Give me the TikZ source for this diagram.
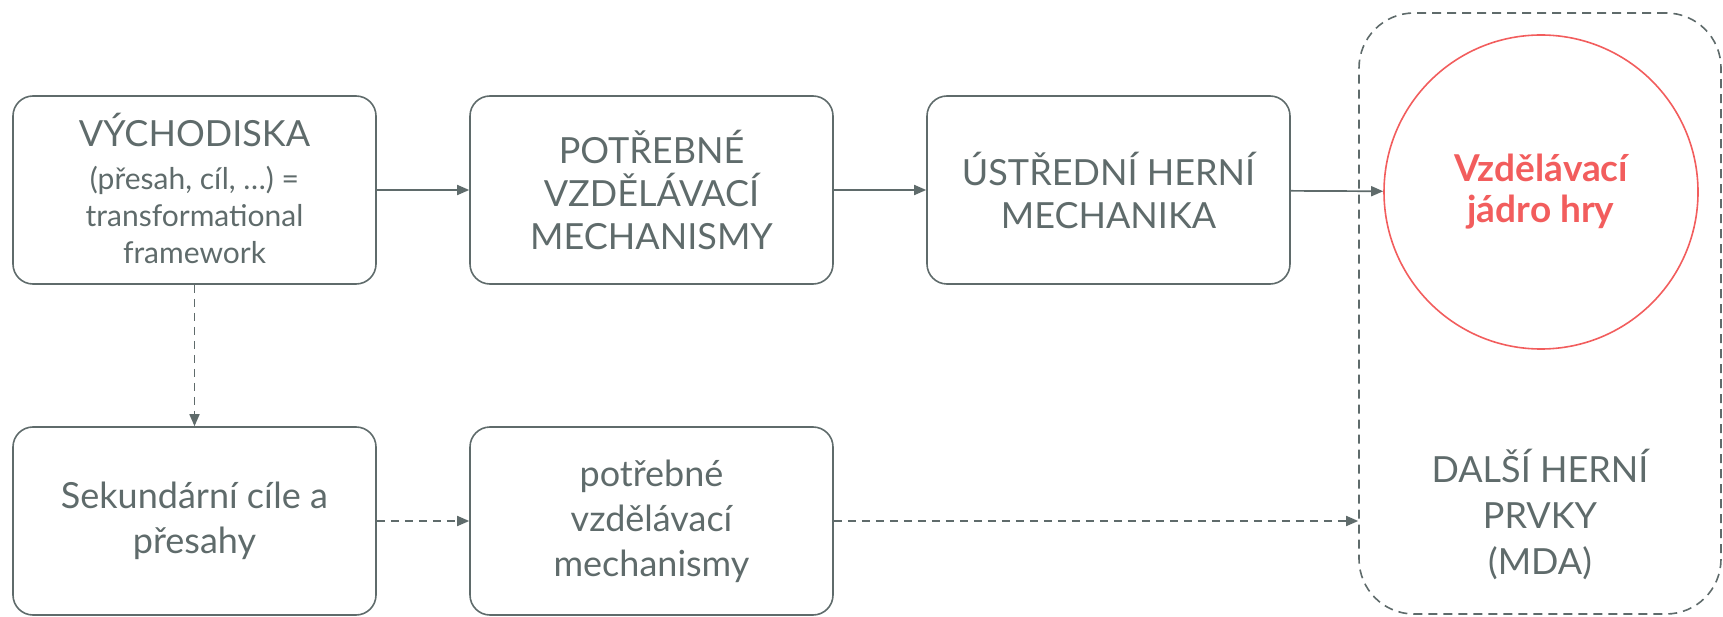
\documentclass[tikz,border=0pt]{standalone}
\usepackage{fontspec}
\setmainfont{Lato}
\usetikzlibrary{arrows.meta}
\definecolor{slate}{HTML}{5F6B6B}
\definecolor{coral}{HTML}{F25D5D}
\begin{document}
\begin{tikzpicture}[x=1pt,y=-1pt,
  stepbox/.style={draw=slate, line width=1.6pt, rounded corners=20pt,
    minimum width=363pt, minimum height=188pt, inner sep=0pt,
    align=center, text=slate, font=\fontsize{36}{43}\selectfont},
  flow/.style={draw=slate, line width=1.7pt, -{Triangle[length=12pt,width=10pt]}},
  dashflow/.style={flow, dash pattern=on 8pt off 6pt},
  smalltext/.style={font=\fontsize{30}{37}\selectfont}]
\useasboundingbox (0,0) rectangle (1723,617);

% outer dashed group on the right
\node[draw=slate, line width=1.6pt, dash pattern=on 9pt off 6pt,
      rounded corners=55pt, minimum width=362pt, minimum height=601pt,
      inner sep=0pt] (group) at (1540,313.5) {};

% core circle
\node[circle, draw=coral, line width=1.6pt, minimum size=314pt, inner sep=0pt,
      align=center, text=coral, font=\fontsize{37}{41}\selectfont\bfseries]
  (nucleus) at (1541,192) {Vzdělávací\\jádro hry};

\node[align=center, text=slate, font=\fontsize{36}{46}\selectfont]
  (extra) at (1540,514) {DALŠÍ HERNÍ\\PRVKY\\(MDA)};

% top row
\node[stepbox] (src) at (194.5,190) {};
\node[text=slate, font=\fontsize{36}{44}\selectfont] at (194.5,130) {VÝCHODISKA};
\node[text=slate, align=center, smalltext] at (194.5,215)
  {(přesah, cíl, …) =\\transformational\\framework};

\node[stepbox] (mech) at (651.5,190) {POTŘEBNÉ\\VZDĚLÁVACÍ\\MECHANISMY};
\node[stepbox] (core) at (1108.5,190) {ÚSTŘEDNÍ HERNÍ\\MECHANIKA};

% bottom row
\node[stepbox, font=\fontsize{36}{45}\selectfont] (sec) at (194.5,521) {Sekundární cíle a\\přesahy};
\node[stepbox, font=\fontsize{36}{45}\selectfont] (secmech) at (651.5,521) {potřebné\\vzdělávací\\mechanismy};

% connectors
\draw[flow] (src) -- (mech);
\draw[flow] (mech) -- (core);
\draw[flow] (core) -- (nucleus);
\draw[dashflow] (src) -- (sec);
\draw[dashflow] (sec) -- (secmech);
\draw[dashflow] (secmech.east) -- (secmech.east -| group.west);
\end{tikzpicture}
\end{document}
